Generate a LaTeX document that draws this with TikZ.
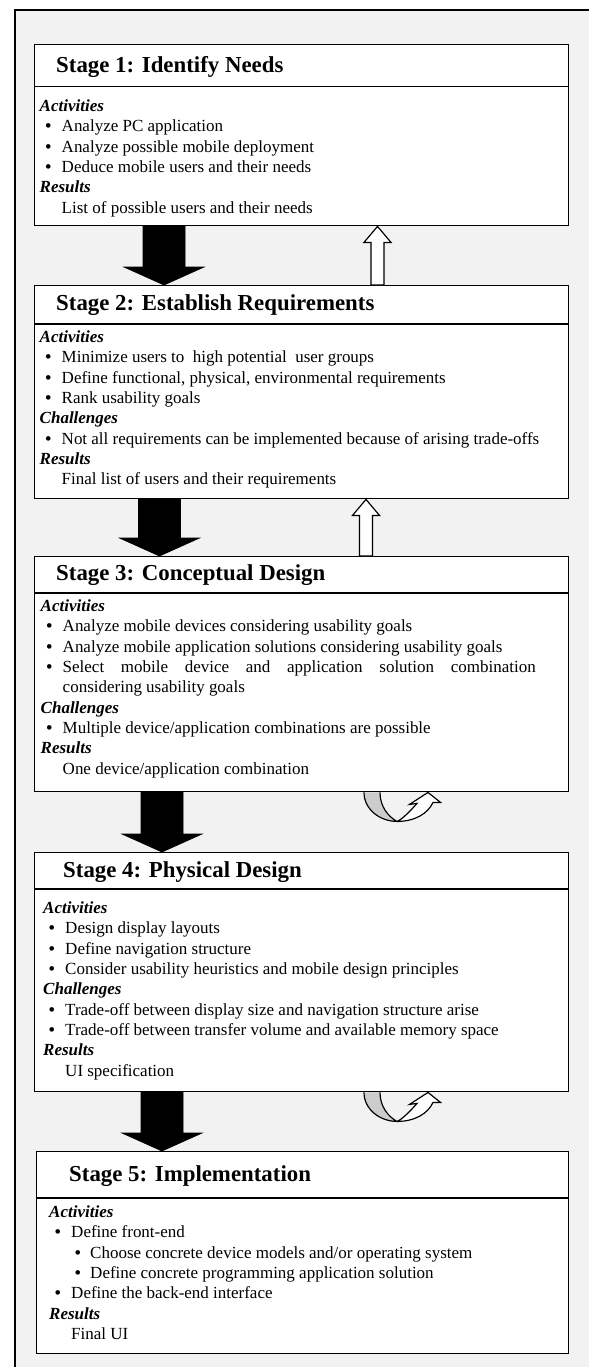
\documentclass[tikz,border=0pt]{standalone}
\usepackage{fontspec}
\setmainfont{Liberation Serif}
\usetikzlibrary{calc}

\definecolor{panelgray}{gray}{0.95}
\definecolor{backgray}{gray}{0.8}

\newcommand{\bodyfont}{\fontsize{14.5pt}{0.6105cm}\selectfont}
\newcommand{\titlefont}{\fontsize{19.5pt}{23pt}\selectfont\bfseries}
\newcommand{\topic}[1]{\par\noindent\textbf{\textit{#1}}}
\newcommand{\itm}[1]{\par\noindent\hangindent=0.66cm\makebox[0.66cm][l]{\hspace{0.17cm}\textbf{•}}#1}
\newcommand{\subitm}[1]{\par\noindent\hangindent=1.23cm\makebox[1.23cm][l]{\hspace{0.77cm}\textbf{•}}#1}
\newcommand{\outcome}[1]{\par\noindent\hspace*{0.66cm}#1}

\tikzset{
  stagebox/.style={draw, fill=white, line width=1.2pt, inner sep=0pt, anchor=north west, minimum width=16.02cm},
  stagetitle/.style={anchor=base west, inner sep=0pt, font=\titlefont},
  stagebody/.style={anchor=base west, inner sep=0pt, font=\bodyfont},
  sepline/.style={line width=1.2pt},
  blockarrow/.style={draw=black, fill=black, line width=0.6pt},
  hollowarrow/.style={draw=black, fill=white, line width=1pt},
  uturn/.pic={
    \draw[line width=1pt, fill=backgray] (0,0) .. controls (0,17) and (16,29) .. (33,29) .. controls (24,24) and (16,14) .. (16,0);
    \draw[line width=1pt, fill=white] (33,29) .. controls (51,29) and (64,21) .. (69,10) -- (76.5,10) -- (64,0) -- (45.5,12) -- (53,11) .. controls (46,19) and (38,27) .. (33,29);
  }
}

\begin{document}
\begin{tikzpicture}[x=0.03cm, y={(0,-0.03cm)}]
    \useasboundingbox (0,0) rectangle (589,1367);
    \clip (0,0) rectangle (589,1367);
    \draw[line width=1.1pt, fill=panelgray] (15,10) rectangle (620,1400);

    % stage boxes
    \node[stagebox, minimum height=5.43cm] (s1) at (34,44) {};
    \node[stagebox, minimum height=6.39cm] (s2) at (34,285) {};
    \node[stagebox, minimum height=7.05cm] (s3) at (34,556) {};
    \node[stagebox, minimum height=7.17cm] (s4) at (34,852) {};
    \node[stagebox, minimum height=6.06cm, minimum width=15.96cm] (s5) at (36,1151) {};
    \draw[sepline] (s1.west |- 0,86.7) -- (s1.east |- 0,86.7);
    \draw[sepline] (s2.west |- 0,324) -- (s2.east |- 0,324);
    \draw[sepline] (s3.west |- 0,593) -- (s3.east |- 0,593);
    \draw[sepline] (s4.west |- 0,889) -- (s4.east |- 0,889);
    \draw[sepline] (s5.west |- 0,1198) -- (s5.east |- 0,1198);

    % titles
    \node[stagetitle] (t1) at (56,72.5) {Stage 1: Identify Needs};
    \node[stagetitle] (t2) at (56,310) {Stage 2: Establish Requirements};
    \node[stagetitle] (t3) at (56,580.5) {Stage 3: Conceptual Design};
    \node[stagetitle] (t4) at (63,877) {Stage 4: Physical Design};
    \node[stagetitle] (t5) at (69,1181) {Stage 5: Implementation};

    % contents
    \node[stagebody] (b1) at (39.5,111.5) {\parbox[t]{15.6cm}{%
      \topic{Activities}
      \itm{Analyze PC application}
      \itm{Analyze possible mobile deployment}
      \itm{Deduce mobile users and their needs}
      \topic{Results}
      \outcome{List of possible users and their needs}}};
    \node[stagebody] (b2) at (39.5,342.5) {\parbox[t]{15.6cm}{%
      \topic{Activities}
      \itm{Minimize users to\ \ high potential\ \ user groups}
      \itm{Define functional, physical, environmental requirements}
      \itm{Rank usability goals}
      \topic{Challenges}
      \itm{Not all requirements can be implemented because of arising trade-offs}
      \topic{Results}
      \outcome{Final list of users and their requirements}}};
    \node[stagebody] (b3) at (40.5,611.5) {\parbox[t]{15.6cm}{%
      \topic{Activities}
      \itm{Analyze mobile devices considering usability goals}
      \itm{Analyze mobile application solutions considering usability goals}
      \itm{\makebox[14.19cm][s]{Select mobile device and application solution combination}\newline considering usability goals}
      \topic{Challenges}
      \itm{Multiple device/application combinations are possible}
      \topic{Results}
      \outcome{One device/application combination}}};
    \node[stagebody] (b4) at (43,913.5) {\parbox[t]{15.6cm}{%
      \topic{Activities}
      \itm{Design display layouts}
      \itm{Define navigation structure}
      \itm{Consider usability heuristics and mobile design principles}
      \topic{Challenges}
      \itm{Trade-off between display size and navigation structure arise}
      \itm{Trade-off between transfer volume and available memory space}
      \topic{Results}
      \outcome{UI specification}}};
    \node[stagebody] (b5) at (49,1217.5) {\parbox[t]{15.2cm}{%
      \topic{Activities}
      \itm{Define front-end}
      \subitm{Choose concrete device models and/or operating system}
      \subitm{Define concrete programming application solution}
      \itm{Define the back-end interface}
      \topic{Results}
      \outcome{Final UI}}};

    % forward arrows
    \foreach \a/\b/\cx in {s1/s2/164, s2/s3/159.5, s3/s4/162, s4/s5/162}
      \draw[blockarrow] ($(\cx,0 |- \a.south)+(-21,0)$) -- ($(\cx,0 |- \b.north)+(-21,-18)$)
        -- ($(\cx,0 |- \b.north)+(-40,-18)$) -- (\cx,0 |- \b.north) -- ($(\cx,0 |- \b.north)+(40,-18)$)
        -- ($(\cx,0 |- \b.north)+(21,-18)$) -- ($(\cx,0 |- \a.south)+(21,0)$) -- cycle;
    % feedback arrows
    \foreach \a/\b/\cx in {s1/s2/377.5, s2/s3/366}
      \draw[hollowarrow] ($(\cx,0 |- \b.north)+(-6.5,0)$) -- ($(\cx,0 |- \a.south)+(-6.5,16)$)
        -- ($(\cx,0 |- \a.south)+(-13.5,16)$) -- (\cx,0 |- \a.south) -- ($(\cx,0 |- \a.south)+(13.5,16)$)
        -- ($(\cx,0 |- \a.south)+(6.5,16)$) -- ($(\cx,0 |- \b.north)+(6.5,0)$) -- cycle;
    \pic at ($(s3.south west)+(330,0)$) {uturn};
    \pic at ($(s4.south west)+(330,0)$) {uturn};
\end{tikzpicture}
\end{document}
